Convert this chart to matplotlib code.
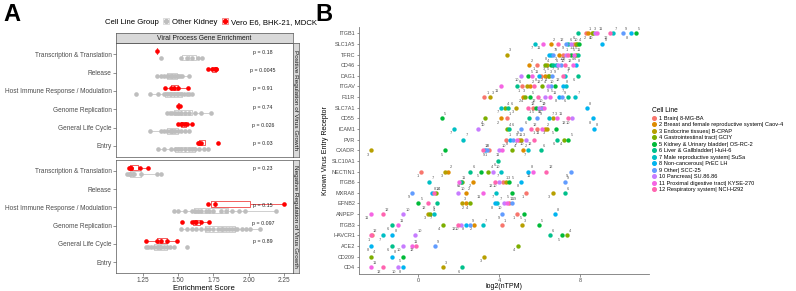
import matplotlib.pyplot as plt
from matplotlib.lines import Line2D

plt.rcParams['font.family'] = ['Liberation Sans', 'DejaVu Sans']

W, H = 796, 291

# ---- panel A data ----
processes = ["Transcription & Translation", "Release", "Host Immune Response / Modulation",
             "Genome Replication", "General Life Cycle", "Entry"]

pos_vero = [[1.35],
            [1.71, 1.74, 1.76, 1.77, 1.77],
            [1.41, 1.45, 1.47, 1.50, 1.57],
            [1.50, 1.51],
            [1.50, 1.52, 1.53, 1.55, 1.56, 1.60],
            [1.64, 1.65, 1.66, 1.78]]
pos_other = [[1.38, 1.52, 1.56, 1.60, 1.64, 1.67],
             [1.35, 1.38, 1.40, 1.42, 1.43, 1.44, 1.45, 1.46, 1.47, 1.48, 1.49, 1.50, 1.51, 1.53, 1.58],
             [1.20, 1.30, 1.36, 1.40, 1.42, 1.44, 1.45, 1.47, 1.49, 1.50, 1.52, 1.54, 1.56, 1.58, 1.60],
             [1.42, 1.44, 1.46, 1.48, 1.50, 1.52, 1.55, 1.58, 1.62, 1.66, 1.73],
             [1.30, 1.38, 1.40, 1.42, 1.44, 1.45, 1.46, 1.47, 1.48, 1.50, 1.52, 1.55, 1.58],
             [1.36, 1.40, 1.45, 1.48, 1.50, 1.52, 1.55, 1.58, 1.60, 1.62, 1.65, 1.68, 1.71]]
pos_pvals = ["p = 0.18", "p = 0.0045", "p = 0.91", "p = 0.74", "p = 0.026", "p = 0.03"]

neg_vero = [[1.15, 1.16, 1.17, 1.17, 1.23, 1.29],
            [],
            [1.71, 1.76, 2.25],
            [1.53, 1.60, 1.62, 1.63, 1.66, 1.72],
            [1.27, 1.35, 1.38, 1.42, 1.49],
            []]
neg_other = [[1.14, 1.15, 1.16, 1.17, 1.18, 1.19, 1.24, 1.35, 1.38],
             [],
             [1.47, 1.50, 1.55, 1.60, 1.62, 1.64, 1.66, 1.70, 1.72, 1.75, 1.80, 1.84, 1.88, 1.93, 1.97, 2.19],
             [1.52, 1.56, 1.60, 1.63, 1.66, 1.70, 1.72, 1.75, 1.78, 1.80, 1.82, 1.84, 1.86, 1.88, 1.90,
              1.92, 1.95, 1.98, 2.01, 2.08],
             [1.27, 1.29, 1.31, 1.33, 1.35, 1.36, 1.37, 1.38, 1.40, 1.42, 1.44, 1.47, 1.56],
             []]
neg_pvals = ["p = 0.23", "", "p = 0.15", "p = 0.097", "p = 0.89", ""]

# ---- panel B data ----
cell_lines = ["1 Brain| 8-MG-BA", "2 Breast and female reproductive system| Caov-4",
              "3 Endocrine tissues| B-CPAP", "4 Gastrointestinal tract| GCIY",
              "5 Kidney & Urinary bladder| OS-RC-2", "6 Liver & Gallbladder| HuH-6",
              "7 Male reproductive system| SuSa", "8 Non-cancerous| PrEC LH",
              "9 Other| SCC-25", "10 Pancreas| SU.86.86",
              "11 Proximal digestive tract| KYSE-270", "12 Respiratory system| NCI-H292"]
line_colors = ["#F8766D", "#DE8C00", "#B79F00", "#7CAE00", "#00BA38", "#00C08B",
               "#00BFC4", "#00B4F0", "#619CFF", "#C77CFF", "#F564E3", "#FF64B0"]

receptors = ["ITGB1", "SLC1A5", "TFRC", "CD46", "DAG1", "ITGAV", "F11R", "SLC7A1", "CD55",
             "ICAM1", "PVR", "CXADR", "SLC10A1", "NECTIN1", "ITGB6", "MXRA8", "EFNB2", "ANPEP",
             "ITGB3", "HAVCR1", "ACE2", "CD209", "CD4"]

# log2(nTPM) per cell line 1..12, None = not detected
itgb1 = [8.30, 8.40, 8.58, 8.65, 10.78, 7.89, 9.62, 10.51, 10.13, 8.75, 8.83, 9.49]
slc1a5 = [7.71, 6.57, 7.81, 7.86, 7.97, 7.41, 5.78, 9.11, 7.30, 7.56, 6.19, 6.90]
tfrc = [7.16, 6.98, 4.38, 7.81, 7.56, 7.91, 6.57, 6.47, 6.67, 7.31, 7.71, 7.43]
cd46 = [5.89, 5.48, 6.37, 6.27, 6.57, 6.67, 6.82, 7.81, 7.06, 6.93, 7.64, 7.26]
dag1 = [6.07, 6.27, 6.41, 6.47, 5.45, 7.89, 7.26, 5.99, 6.62, 5.08, 5.63, 7.15]
itgav = [5.15, 5.53, 5.40, 6.11, 6.77, 4.87, 7.31, 7.18, 6.57, 6.41, 4.08, 5.74]
f11r = [3.25, 5.18, 3.55, 5.28, 5.53, 7.41, 7.76, 6.97, 7.11, 6.27, 6.52, 5.93]
slc7a1 = [5.69, 6.07, 4.84, 4.29, 5.83, 4.46, 4.08, 8.34, 6.12, 5.99, 6.24, 5.45]
cd55 = [4.38, 4.08, 6.67, 3.30, 1.16, 5.50, 6.47, 8.66, 5.89, 7.61, 6.85, 7.43]
icam1 = [5.89, 6.27, 6.37, 4.39, 6.82, 4.50, 1.77, 8.70, 5.07, 2.97, 6.11, 5.56]
pvr = [4.34, 4.99, 5.08, 7.21, 7.43, 6.88, 2.23, 4.54, 4.70, 5.33, 4.87, 5.73]
cxadr = [3.50, 5.17, -2.35, 4.62, 1.32, 6.07, 5.41, 3.30, 3.42, 4.00, 4.14, 3.19]
slc10a1 = [None, None, None, None, None, 3.96, None, None, None, None, None, None]
nectin1 = [0.12, 1.47, 1.32, 3.47, 3.09, 2.56, 4.09, 5.45, 7.54, 3.71, 5.68, 6.32]
itgb6 = [4.19, 2.69, 4.34, 2.18, 4.50, 2.11, 0.54, 5.07, 7.26, 4.00, 2.01, 3.80]
mxra8 = [5.35, 2.36, 6.65, 0.88, 4.62, 7.26, 3.85, 0.66, -0.31, 1.98, 3.20, 0.76]
efnb2 = [4.50, 2.36, 2.15, 2.56, 0.00, 0.91, 3.91, 3.80, 4.62, 4.24, 4.39, 0.47]
anpep = [4.87, None, 0.48, 0.60, 5.25, None, 0.78, 6.77, 4.13, -0.74, -2.35, -1.76]
itgb3 = [4.13, 2.76, 5.12, 1.21, 5.98, -1.32, 3.19, 2.35, 2.56, 2.11, -1.02, 1.98]
havcr1 = [-2.30, None, None, 7.35, 7.12, 6.50, -1.73, -1.30, None, -0.16, None, -2.35]
ace2 = [None, None, None, 4.91, None, -1.32, None, -2.35, 0.83, -0.74, -0.33, -0.11]
cd209 = [None, None, 3.27, -2.35, -0.74, None, None, -1.32, None, None, None, None]
cd4 = [None, None, 1.21, None, None, 2.18, None, -0.74, None, -1.00, -2.35, -1.76]

receptor_values = [itgb1, slc1a5, tfrc, cd46, dag1, itgav, f11r, slc7a1, cd55, icam1, pvr,
                   cxadr, slc10a1, nectin1, itgb6, mxra8, efnb2, anpep, itgb3, havcr1, ace2,
                   cd209, cd4]

fig = plt.figure(figsize=(W / 100, H / 100), dpi=100)


def box(l, t, r, b):
    return [l / W, 1 - b / H, (r - l) / W, (b - t) / H]


tick_gray = "#4D4D4D"


def draw_facet(ax, vero, other, pvals):
    for i in range(len(processes)):
        groups = [(vero[i], -0.18, "#FF0000", "#F25C5C"), (other[i], 0.18, "#BEBEBE", "#CFCFCF")]
        for vals, off, pc, ec in groups:
            if not vals:
                continue
            ax.boxplot([vals], positions=[i + off], orientation="horizontal", widths=0.3,
                       showfliers=False, showcaps=False, manage_ticks=False,
                       boxprops=dict(color=ec, lw=0.7), whiskerprops=dict(color=ec, lw=0.7),
                       medianprops=dict(color=ec, lw=0.9))
            ax.scatter(vals, [i + off] * len(vals), s=11, color=pc, lw=0, zorder=3)
        if pvals[i]:
            ax.text(2.10, i - 0.12, pvals[i], fontsize=3.8, ha="center", va="center", color="#222222")
    ax.set_xlim(1.061, 2.309)
    ax.set_ylim(len(processes) - 0.4, -0.6)
    ax.set_yticks(range(len(processes)))
    ax.set_yticklabels(processes)
    ax.set_xticks([1.25, 1.5, 1.75, 2.0, 2.25])
    ax.tick_params(length=2, width=0.5, color="#666666", labelsize=4.7, labelcolor=tick_gray, pad=1)
    for s in ax.spines.values():
        s.set_color("#555555")
        s.set_linewidth(0.5)


ax_top = fig.add_axes(box(116, 43.3, 292.5, 157))
draw_facet(ax_top, pos_vero, pos_other, pos_pvals)
ax_top.tick_params(axis="x", length=0, labelbottom=False)

ax_bot = fig.add_axes(box(116, 160, 292.5, 273))
draw_facet(ax_bot, neg_vero, neg_other, neg_pvals)
ax_bot.set_xticklabels(["1.25", "1.50", "1.75", "2.00", "2.25"])
ax_bot.set_xlabel("Enrichment Score", fontsize=5.6, labelpad=0.3)

# strips
ax_s = fig.add_axes(box(116, 33.3, 292.5, 43.3))
ax_s.set_facecolor("#D9D9D9")
ax_s.set_xticks([])
ax_s.set_yticks([])
ax_s.text(0.5, 0.5, "Viral Process Gene Enrichment", fontsize=4.9, ha="center", va="center",
          color="#1A1A1A", transform=ax_s.transAxes)
for s in ax_s.spines.values():
    s.set_color("#555555")
    s.set_linewidth(0.5)
for t, b, lab in [(43.3, 157, "Positive Regulation of Virus Growth"),
                  (160, 273, "Negative Regulation of Virus Growth")]:
    a = fig.add_axes(box(292.5, t, 298.5, b))
    a.set_facecolor("#D9D9D9")
    a.set_xticks([])
    a.set_yticks([])
    a.text(0.5, 0.5, lab, rotation=270, fontsize=4.6, ha="center", va="center",
           color="#1A1A1A", transform=a.transAxes)
    for s in a.spines.values():
        s.set_color("#555555")
        s.set_linewidth(0.5)

# panel A legend
fig.text(105 / W, 1 - 22.3 / H, "Cell Line Group", fontsize=5.6, va="center", ha="left")
leg_handles = [(Line2D([], [], marker="s", ms=4, mfc="none", mec="#CFCFCF", ls="none", mew=0.5),
                Line2D([], [], marker="o", ms=2.8, color="#BEBEBE", ls="none")),
               (Line2D([], [], marker="s", ms=4, mfc="none", mec="#F25C5C", ls="none", mew=0.5),
                Line2D([], [], marker="o", ms=2.8, color="#FF0000", ls="none"))]
fig.legend(leg_handles, ["Other Kidney", "Vero E6, BHK-21, MDCK"], loc="center left",
           bbox_to_anchor=(162 / W, 1 - 22.3 / H), ncol=2, frameon=False, fontsize=5.6,
           handlelength=0.9, handletextpad=0.35, columnspacing=0.6, borderpad=0, borderaxespad=0)

# ---- panel B ----
ax_b = fig.add_axes(box(359, 26.9, 649, 273.7))
for r, vals in enumerate(receptor_values):
    for k, v in enumerate(vals):
        if v is None:
            continue
        ax_b.scatter(v, r, s=10, color=line_colors[k], lw=0, zorder=3)
        if (k + r) % 2 == 0:
            ax_b.annotate(str(k + 1), (v, r), xytext=(1.6, 1.6), textcoords="offset points",
                          fontsize=2.8, color="#555555", ha="left", va="bottom")
        else:
            ax_b.annotate(str(k + 1), (v, r), xytext=(-1.6, -1.6), textcoords="offset points",
                          fontsize=2.8, color="#555555", ha="right", va="top")
ax_b.set_xlim(-2.94, 11.42)
ax_b.set_ylim(len(receptors) - 0.4, -0.6)
ax_b.set_yticks(range(len(receptors)))
ax_b.set_yticklabels(receptors)
ax_b.set_xticks([0, 4, 8])
ax_b.tick_params(length=1.8, width=0.5, color="#666666", labelsize=4.0, labelcolor=tick_gray, pad=1)
for s in ["top", "right"]:
    ax_b.spines[s].set_visible(False)
for s in ["left", "bottom"]:
    ax_b.spines[s].set_color("#777777")
    ax_b.spines[s].set_linewidth(0.6)
ax_b.set_xlabel("log2(nTPM)", fontsize=5.0, labelpad=0.5)
ax_b.set_ylabel("Known Virus Entry Receptor", fontsize=5.0, labelpad=2)

b_handles = [Line2D([], [], marker="o", ms=2.6, color=c, ls="none") for c in line_colors]
fig.legend(b_handles, cell_lines, title="Cell Line", loc="upper left",
           bbox_to_anchor=(652 / W, 1 - 107 / H), frameon=False, fontsize=4.1, title_fontsize=4.8,
           handlelength=0.8, handletextpad=0.4, labelspacing=0.27, borderpad=0, borderaxespad=0,
           alignment="left")

fig.text(3 / W, 1 - 3 / H, "A", fontsize=17, fontweight="bold", va="top", ha="left")
fig.text(315 / W, 1 - 3 / H, "B", fontsize=17, fontweight="bold", va="top", ha="left")

fig.savefig("out.png", dpi=100)
